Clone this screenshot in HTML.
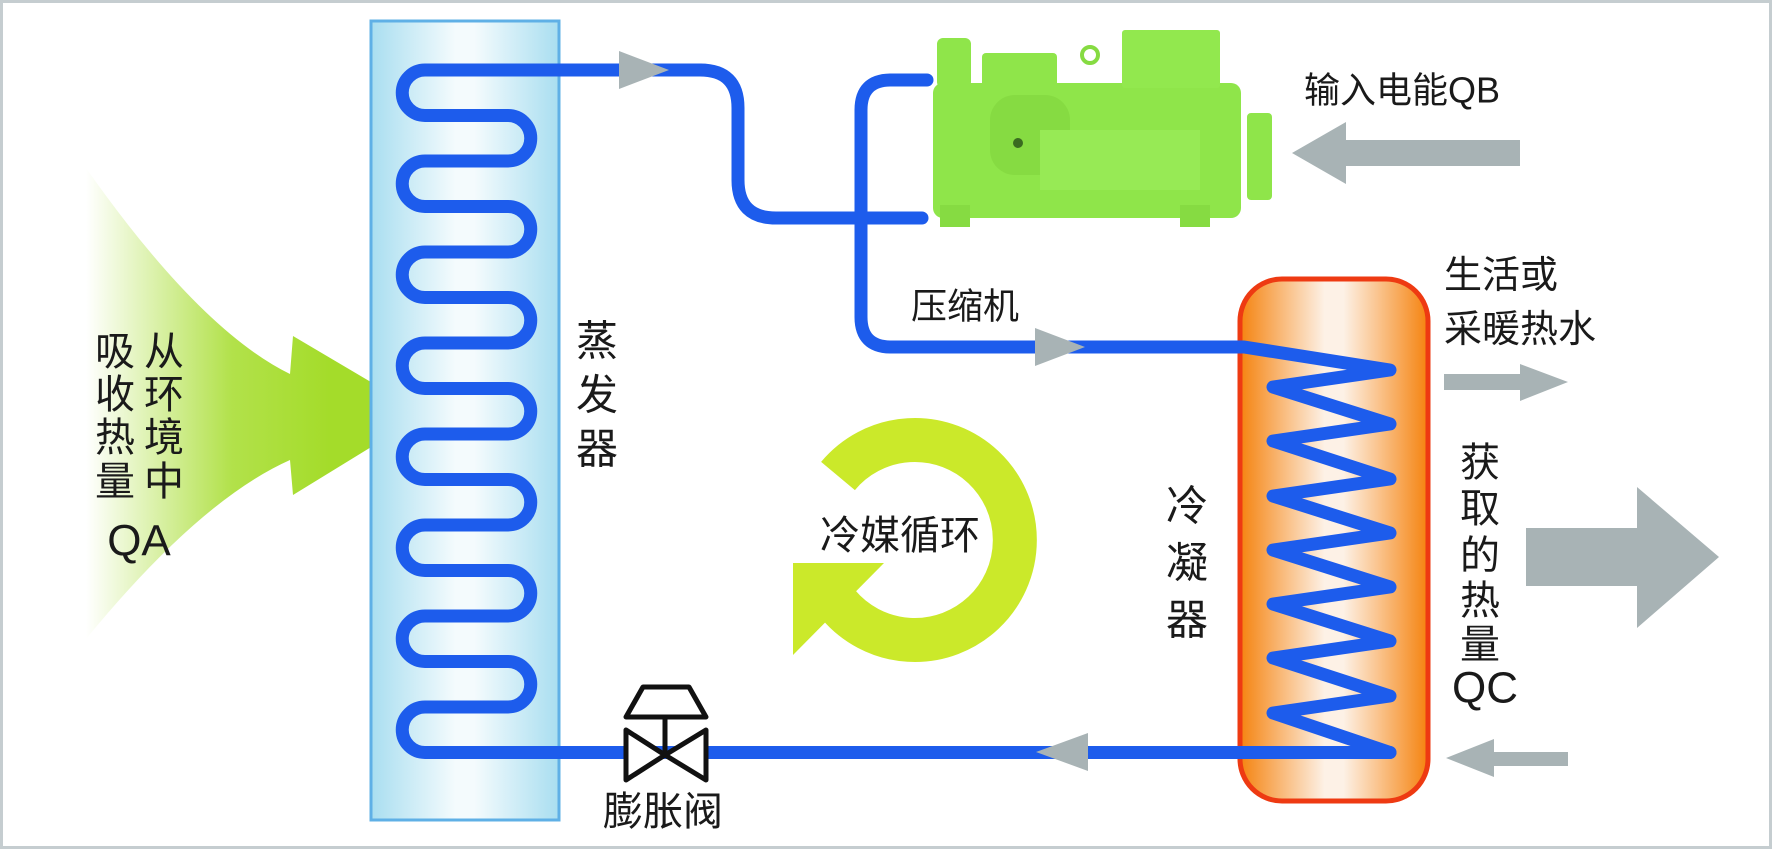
<!DOCTYPE html>
<html><head><meta charset="utf-8"><style>
html,body{margin:0;padding:0;background:#fff;}
svg{display:block;}
text{font-family:"Liberation Sans","Noto Sans CJK SC",sans-serif;fill:#1a1a1a;}
</style></head><body>
<svg width="1772" height="849" viewBox="0 0 1772 849" xmlns="http://www.w3.org/2000/svg">
<defs>
<linearGradient id="evap" x1="0" x2="1" y1="0" y2="0">
<stop offset="0" stop-color="#a9def0"/><stop offset="0.45" stop-color="#f4fbfd"/><stop offset="0.55" stop-color="#f4fbfd"/><stop offset="1" stop-color="#a9def0"/>
</linearGradient>
<linearGradient id="cond" x1="0" x2="1" y1="0" y2="0">
<stop offset="0" stop-color="#f5830f"/><stop offset="0.45" stop-color="#fdf1e6"/><stop offset="0.55" stop-color="#fdf1e6"/><stop offset="1" stop-color="#f5830f"/>
</linearGradient>
<linearGradient id="fan" x1="86" x2="330" y1="0" y2="0" gradientUnits="userSpaceOnUse">
<stop offset="0" stop-color="#a4dc2a" stop-opacity="0"/><stop offset="0.6" stop-color="#a4dc2a" stop-opacity="0.85"/><stop offset="1" stop-color="#a4dc2a"/>
</linearGradient>
</defs>
<rect x="1.5" y="1.5" width="1769" height="846" fill="none" stroke="#c5cdd0" stroke-width="3"/>

<!-- QA fan arrow -->
<path d="M 86 168 Q 200 330 290 374 L 293 336 L 425 414 L 293 495 L 290 460 Q 200 500 86 639 Z" fill="url(#fan)"/>

<!-- evaporator -->
<rect x="371" y="21" width="188" height="799" fill="url(#evap)" stroke="#5fb0e6" stroke-width="3"/>

<!-- condenser -->
<rect x="1240" y="279" width="188" height="522" rx="42" fill="url(#cond)" stroke="#ee3a12" stroke-width="5"/>

<!-- cycle ring -->
<path d="M 838 604 A 100 100 0 1 0 838 476" fill="none" stroke="#cbe92a" stroke-width="44"/>
<polygon points="793,563 884,563 793,655" fill="#cbe92a"/>

<!-- compressor -->
<g fill="#8fe54a">
<rect x="933" y="83" width="308" height="135" rx="10"/>
<rect x="1122" y="30" width="98" height="58" rx="3" fill="#92e84e"/>
<rect x="982" y="53" width="75" height="36" rx="4"/>
<rect x="937" y="38" width="34" height="50" rx="6"/>
<rect x="1247" y="113" width="25" height="87" rx="4"/>
<rect x="990" y="95" width="80" height="80" rx="25" fill="#86db42"/>
<circle cx="1090" cy="55" r="8" fill="none" stroke="#86db42" stroke-width="4"/>
<rect x="940" y="205" width="30" height="22" fill="#86db42"/>
<rect x="1180" y="205" width="30" height="22" fill="#86db42"/>
<rect x="1040" y="130" width="160" height="60" fill="#97ea55"/>
<circle cx="1018" cy="143" r="5" fill="#3a6b20"/>
</g>

<!-- pipes -->
<g fill="none" stroke="#1d5cec" stroke-width="13" stroke-linejoin="round" stroke-linecap="round">
<path d="M 700 70 L 425 70 A 22.75 22.75 0 0 0 425 115.5 L 508 115.5 A 22.75 22.75 0 0 1 508 161 L 425 161 A 22.75 22.75 0 0 0 425 206.5 L 508 206.5 A 22.75 22.75 0 0 1 508 252 L 425 252 A 22.75 22.75 0 0 0 425 297.5 L 508 297.5 A 22.75 22.75 0 0 1 508 343 L 425 343 A 22.75 22.75 0 0 0 425 388.5 L 508 388.5 A 22.75 22.75 0 0 1 508 434 L 425 434 A 22.75 22.75 0 0 0 425 479.5 L 508 479.5 A 22.75 22.75 0 0 1 508 525 L 425 525 A 22.75 22.75 0 0 0 425 570.5 L 508 570.5 A 22.75 22.75 0 0 1 508 616 L 425 616 A 22.75 22.75 0 0 0 425 661.5 L 508 661.5 A 22.75 22.75 0 0 1 508 707 L 425 707 A 22.75 22.75 0 0 0 425 752.5 L 1390 752.5"/>
<path d="M 690 70 L 700 70 Q 738 70 738 108 L 738 180 Q 738 218 776 218 L 922 218"/>
<path d="M 927 80 L 891 80 Q 861 80 861 110 L 861 317 Q 861 347 891 347 L 1244 347 L 1390 370 L 1273 387 L 1390 424 L 1273 441 L 1390 479 L 1273 496 L 1390 533 L 1273 550 L 1390 587 L 1273 604 L 1390 641 L 1273 658 L 1390 696 L 1273 713 L 1390 752.5 L 1300 752.5"/>
</g>

<!-- pipe arrows -->
<g fill="#a8b3b5">
<polygon points="619,51 669,70 619,89"/>
<polygon points="1035,328 1085,347 1035,366"/>
<polygon points="1088,733 1036,752 1088,771"/>
</g>

<!-- valve -->
<g fill="#fff" stroke="#111" stroke-width="5" stroke-linejoin="round">
<polygon points="626,730 626,780 665,755"/>
<polygon points="706,730 706,780 665,755"/>
<line x1="665" y1="717" x2="665" y2="755"/>
<path d="M 643 687 L 689 687 L 706 717 L 626 717 Z"/>
</g>

<!-- gray arrows right -->
<g fill="#a8b3b5">
<polygon points="1292,153 1346,122 1346,140 1520,140 1520,166 1346,166 1346,184"/>
<polygon points="1568,382 1520,364 1520,374 1444,374 1444,390 1520,390 1520,401"/>
<polygon points="1719,557 1637,487 1637,528 1526,528 1526,586 1637,586 1637,628"/>
<polygon points="1446,758 1494,739 1494,752 1568,752 1568,766 1494,766 1494,777"/>
</g>

<!-- labels -->
<g font-size="40" text-anchor="middle" dominant-baseline="central">
<text x="115" y="352">吸</text><text x="115" y="395">收</text><text x="115" y="438">热</text><text x="115" y="482">量</text>
<text x="164" y="352">从</text><text x="164" y="395">环</text><text x="164" y="438">境</text><text x="164" y="482">中</text>
<text x="139" y="541" font-size="44">QA</text>
<text x="597" y="341" font-size="42">蒸</text><text x="597" y="395" font-size="42">发</text><text x="597" y="449" font-size="42">器</text>
<text x="1187" y="506" font-size="42">冷</text><text x="1187" y="563" font-size="42">凝</text><text x="1187" y="620" font-size="42">器</text>
<text x="1480" y="463">获</text><text x="1480" y="509">取</text><text x="1480" y="556">的</text><text x="1480" y="601">热</text><text x="1480" y="645">量</text>
<text x="1485" y="688" font-size="44">QC</text>
<text x="900" y="536">冷媒循环</text>
<text x="663" y="812">膨胀阀</text>
</g>
<g font-size="38" dominant-baseline="central">
<text x="1444" y="276">生活或</text>
<text x="1444" y="330">采暖热水</text>
<text x="1304" y="90" font-size="36">输入电能QB</text>
<text x="911" y="306" font-size="36">压缩机</text>
</g>
</svg>
</body></html>
